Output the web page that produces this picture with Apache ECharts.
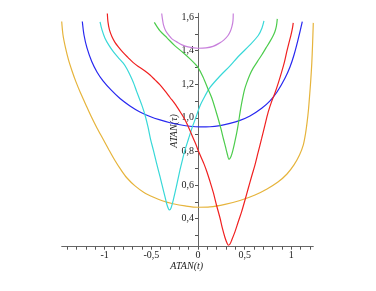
<!DOCTYPE html>
<html>
<head>
<meta charset="utf-8">
<script src="https://cdn.jsdelivr.net/npm/echarts@6/dist/echarts.min.js"></script>
<style>html,body{margin:0;padding:0;background:#fff}#c{width:376px;height:291px}</style>
</head>
<body>
<div id="c"></div>
<script>
const xTickLabels = [-1, -0.5, 0, 0.5, 1];
const yTickLabels = [0.4, 0.6, 0.8, 1.0, 1.2, 1.4, 1.6];
const xTicks = [-1.4,-1.3,-1.2,-1.1,-1,-0.9,-0.8,-0.7,-0.6,-0.5,-0.4,-0.3,-0.2,-0.1,0,0.1,0.2,0.3,0.4,0.5,0.6,0.7,0.8,0.9,1,1.1,1.2];
const yTicks = [0.3,0.4,0.5,0.6,0.7,0.8,0.9,1.0,1.1,1.2,1.3,1.4,1.5,1.6];

const goldCurve = [[-1.461,1.573],[-1.447,1.493],[-1.420,1.416],[-1.388,1.345],[-1.350,1.279],[-1.308,1.214],[-1.259,1.148],[-1.206,1.083],[-1.147,1.011],[-1.083,0.940],[-1.018,0.874],[-0.954,0.809],[-0.890,0.746],[-0.825,0.690],[-0.761,0.642],[-0.675,0.595],[-0.579,0.556],[-0.482,0.529],[-0.375,0.505],[-0.268,0.489],[-0.139,0.476],[0,0.468],[0.129,0.470],[0.289,0.485],[0.450,0.508],[0.611,0.541],[0.740,0.577],[0.857,0.618],[0.954,0.666],[1.029,0.720],[1.088,0.779],[1.129,0.839],[1.152,0.904],[1.170,0.976],[1.184,1.047],[1.197,1.136],[1.209,1.226],[1.220,1.327],[1.228,1.434],[1.236,1.565]];

const blueCurve = [[-1.240,1.573],[-1.222,1.493],[-1.190,1.416],[-1.139,1.335],[-1.083,1.273],[-1.018,1.220],[-0.932,1.166],[-0.836,1.115],[-0.729,1.071],[-0.622,1.035],[-0.514,1.008],[-0.407,0.9875],[-0.300,0.971],[-0.193,0.959],[-0.086,0.950],[0.021,0.946],[0.129,0.947],[0.236,0.954],[0.343,0.967],[0.450,0.985],[0.557,1.011],[0.683,1.057],[0.772,1.101],[0.847,1.154],[0.932,1.236],[0.986,1.303],[1.029,1.374],[1.072,1.464],[1.118,1.573]];

const cyanCurve = [[-1.050,1.571],[-1.029,1.523],[-0.997,1.474],[-0.954,1.431],[-0.908,1.394],[-0.857,1.360],[-0.801,1.325],[-0.761,1.291],[-0.729,1.255],[-0.691,1.208],[-0.657,1.156],[-0.627,1.1125],[-0.603,1.077],[-0.568,1.017],[-0.536,0.946],[-0.509,0.874],[-0.479,0.809],[-0.445,0.732],[-0.407,0.650],[-0.380,0.589],[-0.354,0.531],[-0.335,0.4875],[-0.318,0.461],[-0.305,0.452],[-0.289,0.464],[-0.265,0.511],[-0.230,0.595],[-0.193,0.690],[-0.166,0.752],[-0.139,0.809],[-0.102,0.874],[-0.064,0.940],[-0.021,1.005],[0.021,1.071],[0.075,1.130],[0.129,1.181],[0.236,1.249],[0.343,1.309],[0.432,1.365],[0.557,1.434],[0.646,1.490],[0.686,1.535],[0.707,1.577]];

const greenCurve = [[-0.468,1.568],[-0.407,1.517],[-0.332,1.476],[-0.2465,1.428],[-0.161,1.389],[-0.086,1.351],[-0.032,1.321],[0,1.300],[0.054,1.243],[0.107,1.172],[0.150,1.115],[0.182,1.059],[0.214,0.999],[0.2465,0.934],[0.273,0.874],[0.295,0.827],[0.314,0.785],[0.332,0.753],[0.354,0.770],[0.375,0.809],[0.397,0.8625],[0.415,0.910],[0.432,0.964],[0.445,1.011],[0.459,1.059],[0.477,1.1125],[0.498,1.166],[0.522,1.208],[0.557,1.258],[0.593,1.297],[0.638,1.336],[0.683,1.374],[0.729,1.416],[0.772,1.455],[0.804,1.4875],[0.825,1.514],[0.841,1.547],[0.850,1.589]];

const redCurve = [[-0.972,1.621],[-0.965,1.571],[-0.949,1.523],[-0.922,1.482],[-0.890,1.449],[-0.854,1.422],[-0.804,1.389],[-0.747,1.357],[-0.697,1.330],[-0.640,1.306],[-0.568,1.279],[-0.514,1.255],[-0.461,1.226],[-0.407,1.196],[-0.354,1.160],[-0.300,1.121],[-0.2465,1.083],[-0.193,1.038],[-0.150,0.999],[-0.107,0.952],[-0.075,0.910],[-0.043,0.868],[-0.016,0.833],[0,0.809],[0.032,0.767],[0.064,0.726],[0.096,0.678],[0.129,0.621],[0.164,0.556],[0.198,0.4815],[0.236,0.404],[0.262,0.342],[0.289,0.288],[0.311,0.255],[0.327,0.242],[0.343,0.249],[0.364,0.276],[0.397,0.323],[0.429,0.377],[0.468,0.442],[0.504,0.511],[0.539,0.581],[0.573,0.648],[0.611,0.720],[0.643,0.791],[0.683,0.879],[0.718,0.958],[0.753,1.035],[0.788,1.095],[0.825,1.148],[0.863,1.211],[0.897,1.273],[0.927,1.333],[0.951,1.392],[0.975,1.446],[0.997,1.493],[1.013,1.535],[1.021,1.565]];

const violetCurve = [[-0.389,1.621],[-0.383,1.595],[-0.370,1.553],[-0.348,1.520],[-0.316,1.493],[-0.279,1.470],[-0.228,1.452],[-0.171,1.434],[-0.107,1.422],[0,1.414],[0.086,1.416],[0.161,1.425],[0.225,1.443],[0.279,1.464],[0.322,1.490],[0.348,1.517],[0.364,1.544],[0.375,1.577],[0.378,1.621]];

const curves = [
  {name:'gold', data: goldCurve, color:'#E6B43C'},
  {name:'blue', data: blueCurve, color:'#2828F0'},
  {name:'cyan', data: cyanCurve, color:'#38D8D8'},
  {name:'green', data: greenCurve, color:'#4CCC4C'},
  {name:'red', data: redCurve, color:'#F02020'},
  {name:'violet', data: violetCurve, color:'#C880DC'}
];

const chart = echarts.init(document.getElementById('c'), null, {renderer:'canvas'});
const serif = '"Liberation Serif", "DejaVu Serif", serif';
chart.setOption({
  animation: false,
  grid: {left: 61.7, right: 62.7, top: 13.3, bottom: 44.3, containLabel: false},
  xAxis: {
    type: 'value', min: -1.461, max: 1.236,
    axisLine: {show: true, onZero: false, lineStyle: {color: '#666', width: 1}},
    axisTick: {show: true, length: 3, customValues: xTicks, lineStyle: {color: '#555'}},
    axisLabel: {customValues: xTickLabels, margin: 4, fontFamily: serif, fontSize: 10, color: '#222',
      formatter: v => String(v).replace('.', ',')},
    splitLine: {show: false}
  },
  yAxis: {
    type: 'value', min: 0.2333, max: 1.622, position: 'left', offset: -136.3,
    axisLine: {show: true, onZero: false, lineStyle: {color: '#666', width: 1}},
    axisTick: {show: true, length: 3, customValues: yTicks, lineStyle: {color: '#555'}},
    axisLabel: {customValues: yTickLabels, margin: 4, fontFamily: serif, fontSize: 10, color: '#222',
      formatter: v => v.toFixed(1).replace('.', ',')},
    splitLine: {show: false}
  },
  graphic: [
    {type: 'text', x: 186.7, y: 266.5, style: {text: 'ATAN(t)', font: 'italic 10px ' + serif, fill: '#222', align: 'center', verticalAlign: 'middle'}},
    {type: 'text', x: 174.5, y: 131, rotation: Math.PI / 2, style: {text: 'ATAN(τ)', font: 'italic 10px ' + serif, fill: '#222', align: 'center', verticalAlign: 'middle'}}
  ],
  series: curves.map(c => ({
    type: 'line', name: c.name, data: c.data, showSymbol: false, smooth: 0.3,
    clip: true, lineStyle: {color: c.color, width: 1.2}, itemStyle: {color: c.color}
  }))
});
</script>
</body>
</html>
